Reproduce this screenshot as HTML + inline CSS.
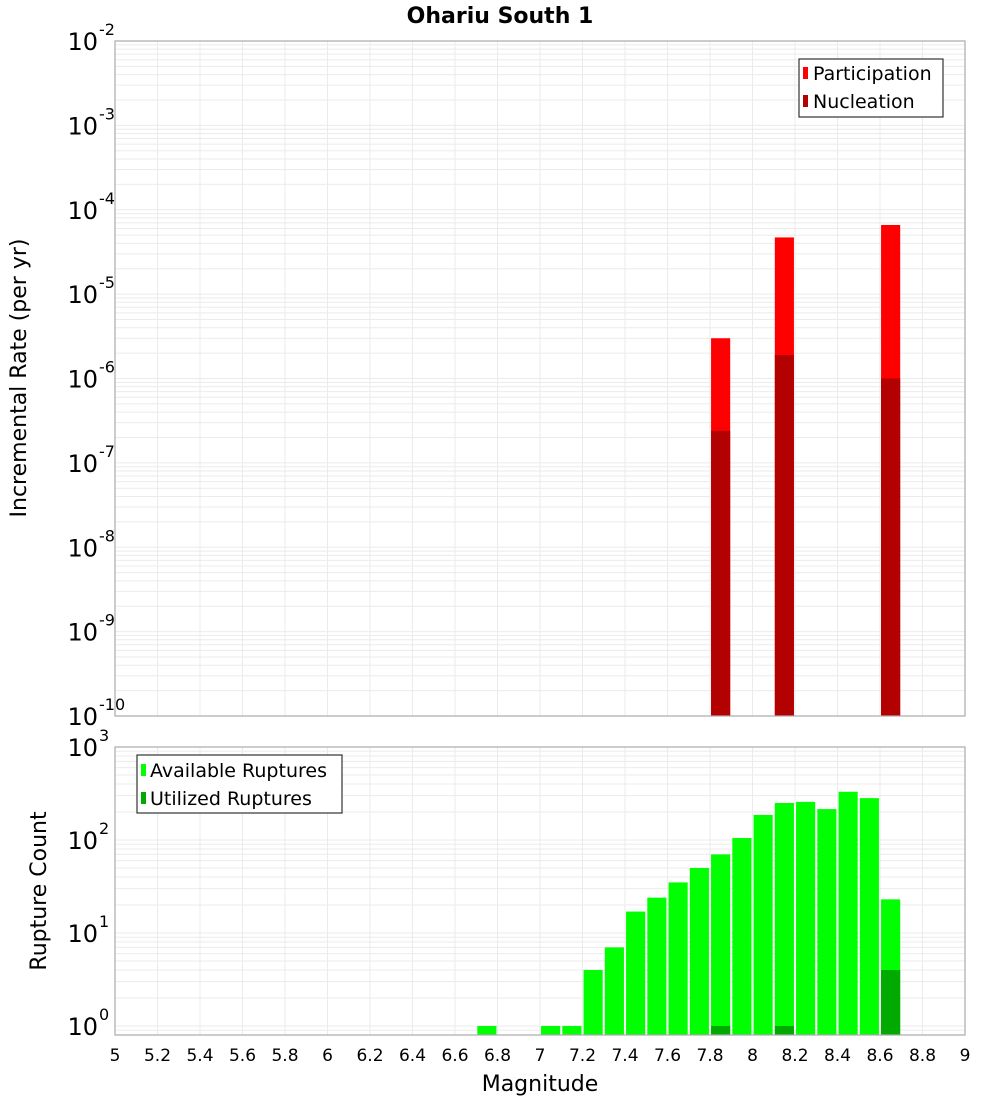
<!DOCTYPE html>
<html><head><meta charset="utf-8"><style>
body{margin:0;background:#fff;}
svg{display:block;font-family:"DejaVu Sans","Liberation Sans",sans-serif;}
</style></head><body>
<svg id="chart" width="1000" height="1100" viewBox="0 0 1000 1100">
<text x="500" y="23" text-anchor="middle" font-size="22" font-weight="bold">Ohariu South 1</text>
<text transform="translate(26,378) rotate(-90)" text-anchor="middle" font-size="22">Incremental Rate (per yr)</text>
<text transform="translate(46,891) rotate(-90)" text-anchor="middle" font-size="22">Rupture Count</text>
<text x="540" y="1091" text-anchor="middle" font-size="22">Magnitude</text>
<g id="topplot"></g>
<g id="botplot"></g>
<g>
<rect x="799" y="59" width="144" height="58" fill="#fff" stroke="#333" stroke-width="1.2"/>
<rect x="803" y="67" width="5" height="12" fill="#ff0000"/>
<text x="813" y="80" font-size="19">Participation</text>
<rect x="803" y="95" width="5" height="12" fill="#b30000"/>
<text x="813" y="108" font-size="19">Nucleation</text>
</g>
<g>
<rect x="137" y="755" width="205" height="58" fill="#fff" stroke="#333" stroke-width="1.2"/>
<rect x="141" y="764" width="5" height="12" fill="#00ff00"/>
<text x="150" y="777" font-size="19">Available Ruptures</text>
<rect x="141" y="792" width="5" height="12" fill="#00aa00"/>
<text x="150" y="805" font-size="19">Utilized Ruptures</text>
</g>
</svg>
<script>
const rateMags=[7.85,8.15,8.65];
const participation=[3.0e-6,4.7e-5,6.6e-5];
const nucleation=[2.4e-7,1.9e-6,1.0e-6];
const countMags=[6.75,7.05,7.15,7.25,7.35,7.45,7.55,7.65,7.75,7.85,7.95,8.05,8.15,8.25,8.35,8.45,8.55,8.65];
const available=[1,1,1,4,7,17,24,35,50,70,105,186,250,257,215,330,282,23];
const utilizedMags=[7.85,8.15,8.65];
const utilized=[1,1,4];
const xTicks=[5,5.2,5.4,5.6,5.8,6,6.2,6.4,6.6,6.8,7,7.2,7.4,7.6,7.8,8,8.2,8.4,8.6,8.8,9];
const topExps=[-2,-3,-4,-5,-6,-7,-8,-9,-10];
const botExps=[3,2,1,0];

const NS="http://www.w3.org/2000/svg";
const X0=115,X1=965;
const xs=m=>X0+(m-5)/4*(X1-X0);
const T0=41,T1=716;
const yTop=v=>T0+(-2-Math.log10(v))*(T1-T0)/8;
const B0=747,B1=1035;
const yBot=v=>1026-Math.log10(v)*93;
const bw=0.09;
function mk(p,tag,at){const e=document.createElementNS(NS,tag);for(const k in at)e.setAttribute(k,at[k]);p.appendChild(e);return e;}
function grid(g,ytop,ybot,yf,lo,hi){
  mk(g,'rect',{x:X0,y:ytop,width:X1-X0,height:ybot-ytop,fill:'#fff'});
  for(let d=lo;d<hi;d++)for(let k=1;k<10;k++){const yy=yf(k*Math.pow(10,d));if(yy>=ytop&&yy<=ybot)mk(g,'line',{x1:X0,x2:X1,y1:yy,y2:yy,stroke:'#ebebeb','stroke-width':1});}
  xTicks.forEach(t=>mk(g,'line',{x1:xs(t),x2:xs(t),y1:ytop,y2:ybot,stroke:'#ebebeb','stroke-width':1}));
}
function ylabel(g,yy,e,nm){
  const t=mk(g,'text',{x:98,y:yy+9,'text-anchor':'end','font-size':24});
  
  
  t.textContent='10';
  const s=mk(g,'text',{x:99,y:yy-6,'font-size':16});
  s.textContent=e;
}
const topG=document.getElementById('topplot');
grid(topG,T0,T1,yTop,-10,-2);
rateMags.forEach((m,i)=>{
  const r=mk(topG,'rect',{x:xs(m-bw/2),y:yTop(participation[i]),width:xs(m+bw/2)-xs(m-bw/2),height:T1-yTop(participation[i]),fill:'#ff0000'});
  
  
  const n=mk(topG,'rect',{x:xs(m-bw/2),y:yTop(nucleation[i]),width:xs(m+bw/2)-xs(m-bw/2),height:T1-yTop(nucleation[i]),fill:'#b30000'});
  
  
});
mk(topG,'rect',{x:X0,y:T0,width:X1-X0,height:T1-T0,fill:'none',stroke:'#aaa','stroke-width':1.2});
topExps.forEach(e=>ylabel(topG,yTop(Math.pow(10,e)),e,'top-y-tick-label'));

const botG=document.getElementById('botplot');
grid(botG,B0,B1,yBot,-1,3);
countMags.forEach((m,i)=>{
  const r=mk(botG,'rect',{x:xs(m-bw/2),y:yBot(available[i]),width:xs(m+bw/2)-xs(m-bw/2),height:B1-yBot(available[i]),fill:'#00ff00'});
  
  
});
utilizedMags.forEach((m,i)=>{
  const r=mk(botG,'rect',{x:xs(m-bw/2),y:yBot(utilized[i]),width:xs(m+bw/2)-xs(m-bw/2),height:B1-yBot(utilized[i]),fill:'#00aa00'});
  
  
});
mk(botG,'rect',{x:X0,y:B0,width:X1-X0,height:B1-B0,fill:'none',stroke:'#aaa','stroke-width':1.2});
botExps.forEach(e=>ylabel(botG,yBot(Math.pow(10,e)),e,'bottom-y-tick-label'));
xTicks.forEach(v=>{
  const t=mk(botG,'text',{x:xs(v),y:1061,'text-anchor':'middle','font-size':17});
  
  
  t.textContent=String(Math.round(v*10)/10);
});
</script>
</body></html>
